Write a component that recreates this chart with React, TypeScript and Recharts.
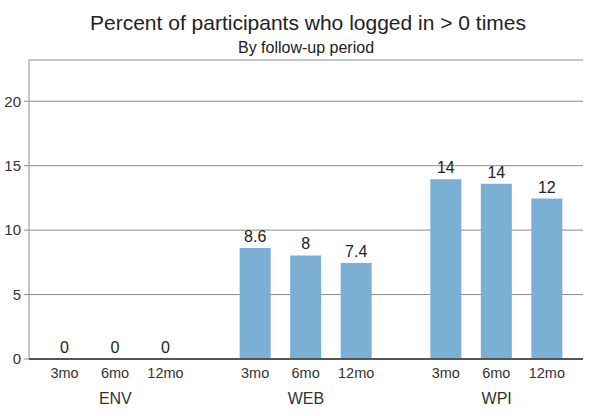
import { BarChart, Bar, XAxis, YAxis, CartesianGrid, LabelList } from 'recharts';

const groups = ['ENV', 'WEB', 'WPI'];
const periods = ['3mo', '6mo', '12mo'];
const m3 = [0, 8.62, 13.95];
const m6 = [0, 8.04, 13.6];
const m12 = [0, 7.44, 12.45];
const yTicks = [0, 5, 10, 15, 20];

const data = groups.map((g, i) => ({ group: g, m3: m3[i], m6: m6[i], m12: m12[i] }));
const keys = ['m3', 'm6', 'm12'];

const FONT = '"Liberation Sans", Arial, sans-serif';
const BAR = '#7bafd4';

// two significant digits, no trailing zeros
const fmt = (v: any) => String(Number(Number(v).toPrecision(2)));

const periodLabel = (name: string) => (props: any) => {
  const { x, y, width, height } = props;
  return (
    <text
      x={Number(x) + Number(width) / 2}
      y={Number(y) + Number(height) + 14}
      textAnchor="middle"
      dominantBaseline="central"
      fontSize={14.5}
      fill="#333"
      fontFamily={FONT}
    >
      {name}
    </text>
  );
};

export default function App() {
  return (
    <div style={{ position: 'absolute', left: 0, top: 0, width: 594, height: 416, background: '#fff', fontFamily: FONT }}>
      <div style={{ position: 'absolute', left: 0, width: 616, top: 10, textAlign: 'center', fontSize: 21, lineHeight: '26px', color: '#222' }}>
        Percent of participants who logged in &gt; 0 times
      </div>
      <div style={{ position: 'absolute', left: 0, width: 612, top: 39, textAlign: 'center', fontSize: 16, lineHeight: '18px', color: '#222' }}>
        By follow-up period
      </div>
      <BarChart
        width={594}
        height={416}
        data={data}
        margin={{ top: 60, right: 11, bottom: 0, left: 1 }}
        barSize={31}
        barGap={19.5}
      >
        <CartesianGrid vertical={false} stroke="#8c8c8c" strokeWidth={1} />
        <XAxis
          dataKey="group"
          padding={{ left: -9, right: -9 }}
          height={57}
          tickLine={false}
          axisLine={{ stroke: '#555', strokeWidth: 2 }}
          tickMargin={28}
          tick={{ fontSize: 16, fill: '#333', fontFamily: FONT }}
        />
        <XAxis xAxisId="top" dataKey="group" orientation="top" height={0} tick={false} tickLine={false} axisLine={{ stroke: '#8c8c8c' }} />
        <YAxis
          domain={[0, 23.2]}
          ticks={yTicks}
          width={28}
          tickSize={5}
          tickMargin={3}
          interval={0}
          axisLine={{ stroke: '#8c8c8c' }}
          tickLine={{ stroke: '#8c8c8c' }}
          tick={{ fontSize: 15, fill: '#333', fontFamily: FONT }}
        />
        <YAxis yAxisId="right" orientation="right" width={0} tick={false} tickLine={false} axisLine={{ stroke: '#8c8c8c' }} />
        {keys.map((k, i) => (
          <Bar key={k} dataKey={k} fill={BAR} minPointSize={0.01} isAnimationActive={false}>
            <LabelList dataKey={k} position="top" offset={6} formatter={fmt} style={{ fontSize: 16, fill: '#222', fontFamily: FONT }} />
            <LabelList dataKey={k} content={periodLabel(periods[i])} />
          </Bar>
        ))}
      </BarChart>
    </div>
  );
}
